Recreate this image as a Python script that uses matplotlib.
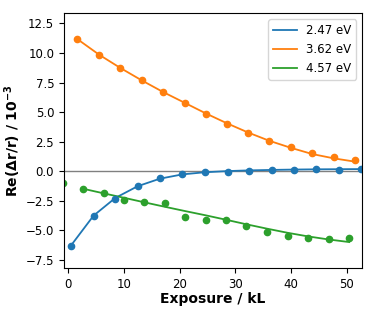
import numpy as np
import matplotlib.pyplot as plt

# exposure (kL) and Re(dr/r) x 1e-3
x_blue = [0.5, 4.6, 8.5, 12.5, 16.5, 20.5, 24.5, 28.6, 32.5, 36.6, 40.6, 44.5, 48.5, 52.5]
y_blue = [-6.31, -3.75, -2.31, -1.24, -0.59, -0.23, -0.06, -0.06, 0.05, 0.08, 0.14, 0.22, 0.14, 0.19]
fit_blue = [-6.31, -3.75, -2.25, -1.26, -0.62, -0.26, -0.08, 0.02, 0.08, 0.12, 0.15, 0.17, 0.18, 0.19]

x_orange = [1.7, 5.6, 9.4, 13.2, 17.0, 20.9, 24.7, 28.5, 32.3, 36.1, 40.0, 43.8, 47.6, 51.4]
y_orange = [11.18, 9.83, 8.76, 7.69, 6.68, 5.77, 4.82, 3.97, 3.24, 2.53, 2.08, 1.55, 1.24, 0.96]
fit_orange = [11.18, 9.86, 8.74, 7.70, 6.72, 5.80, 4.90, 4.06, 3.28, 2.58, 1.98, 1.46, 1.10, 0.82]

x_green = [-0.9, 2.7, 6.4, 10.0, 13.7, 17.4, 21.0, 24.7, 28.4, 32.0, 35.7, 39.4, 43.0, 46.7, 50.4]
y_green = [-0.96, -1.47, -1.81, -2.45, -2.60, -2.70, -3.84, -4.09, -4.12, -4.60, -5.10, -5.50, -5.64, -5.75, -5.64]
fit_x_green = x_green[1:]
fit_green = [-1.47, -1.86, -2.23, -2.62, -3.00, -3.36, -3.72, -4.10, -4.48, -4.85, -5.20, -5.50, -5.76, -5.98]

labels = ['2.47 eV', '3.62 eV', '4.57 eV']
colors = ['#1f77b4', '#ff7f0e', '#2ca02c']

fig = plt.figure(figsize=(3.74, 3.12), dpi=100)
ax = fig.add_axes([0.171, 0.140, 0.797, 0.817])

ax.axhline(0, color='gray', lw=1.0, zorder=1)

ax.plot(x_blue, fit_blue, color=colors[0], lw=1.3, label=labels[0])
ax.plot(x_orange, fit_orange, color=colors[1], lw=1.3, label=labels[1])
ax.plot(fit_x_green, fit_green, color=colors[2], lw=1.3, label=labels[2])

ax.plot(x_blue, y_blue, 'o', color=colors[0], ms=4.5)
ax.plot(x_orange, y_orange, 'o', color=colors[1], ms=4.5)
ax.plot(x_green, y_green, 'o', color=colors[2], ms=4.5)

ax.set_xlim(-0.7, 52.7)
ax.set_ylim(-8.2, 13.35)
ax.set_yticks(np.arange(-7.5, 12.6, 2.5))
ax.set_xticks([0, 10, 20, 30, 40, 50])
ax.tick_params(labelsize=8.5)

ax.set_xlabel('Exposure / kL', fontsize=10, fontweight='bold', labelpad=1)
ax.set_ylabel(r'Re($\mathbf{\Delta}$r/r) / 10$^{\mathbf{-3}}$', fontsize=10, fontweight='bold', labelpad=2)

ax.legend(loc='upper right', fontsize=8.5)

fig.savefig('out.png', dpi=100)
